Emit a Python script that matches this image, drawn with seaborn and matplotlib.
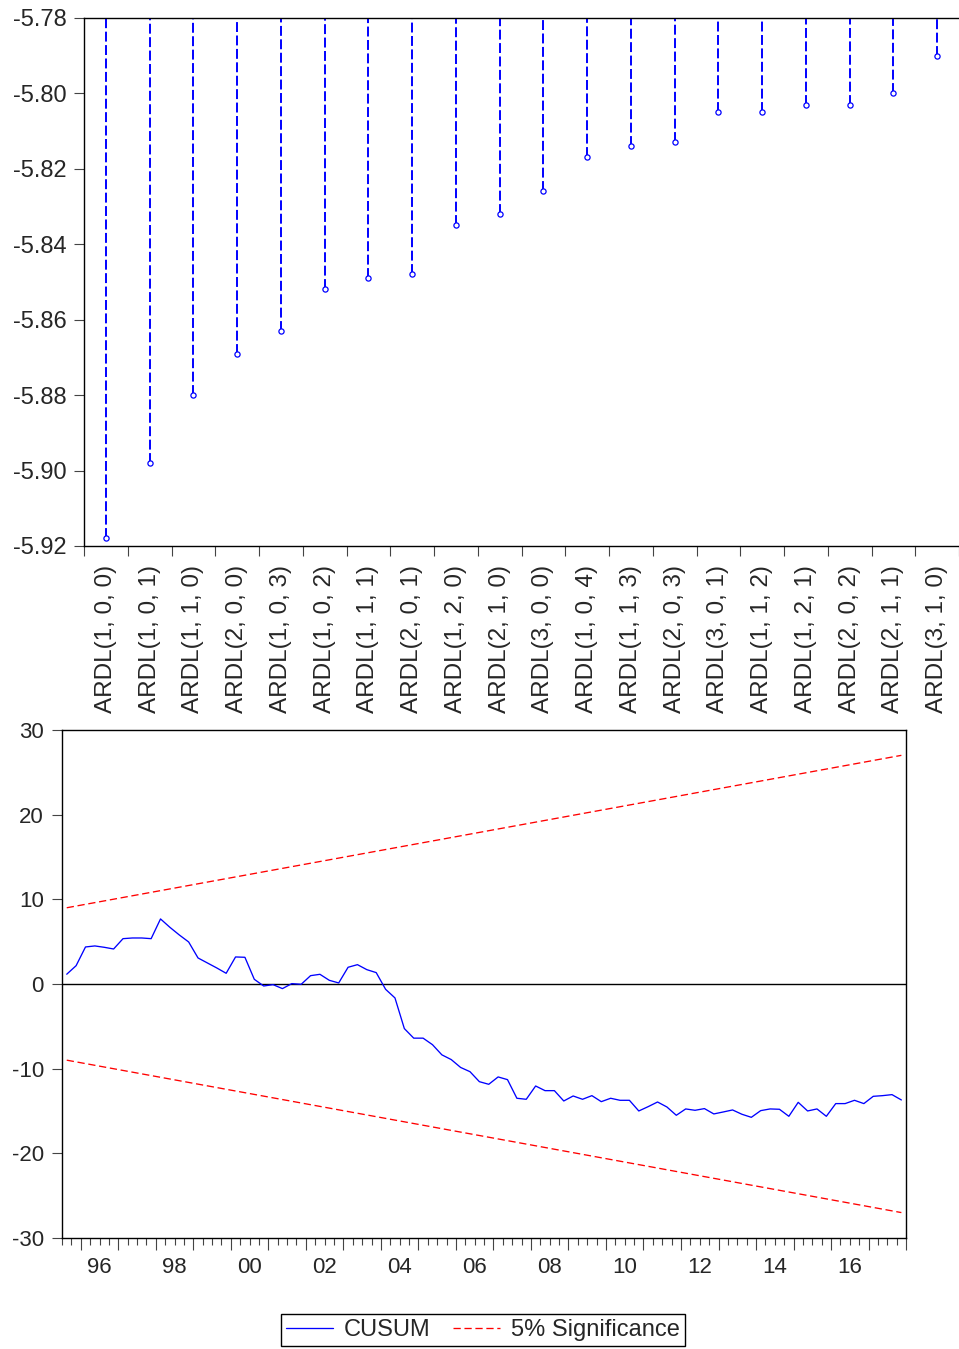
import numpy as np
import seaborn as sns
import matplotlib.pyplot as plt

# Top panel: Akaike criterion of the 20 best ARDL models
models = ["ARDL(1, 0, 0)", "ARDL(1, 0, 1)", "ARDL(1, 1, 0)", "ARDL(2, 0, 0)",
          "ARDL(1, 0, 3)", "ARDL(1, 0, 2)", "ARDL(1, 1, 1)", "ARDL(2, 0, 1)",
          "ARDL(1, 2, 0)", "ARDL(2, 1, 0)", "ARDL(3, 0, 0)", "ARDL(1, 0, 4)",
          "ARDL(1, 1, 3)", "ARDL(2, 0, 3)", "ARDL(3, 0, 1)", "ARDL(1, 1, 2)",
          "ARDL(1, 2, 1)", "ARDL(2, 0, 2)", "ARDL(2, 1, 1)", "ARDL(3, 1, 0)"]
aic = [-5.918, -5.898, -5.880, -5.869, -5.863, -5.852, -5.849, -5.848,
       -5.835, -5.832, -5.826, -5.817, -5.814, -5.813, -5.805, -5.805,
       -5.803, -5.803, -5.800, -5.790]
aic_ticks = [-5.92, -5.90, -5.88, -5.86, -5.84, -5.82, -5.80, -5.78]

# Bottom panel: CUSUM, quarterly 1995Q3 - 2017Q4
first_year, first_q = 1995, 3
cusum = [1.15, 2.16, 4.37, 4.49, 4.33, 4.13, 5.35, 5.43, 5.43, 5.35,
         7.68, 6.69, 5.79, 4.96, 3.07, 2.48, 1.89, 1.26, 3.19, 3.15,
         0.55, -0.24, -0.08, -0.55, 0.04, -0.04, 0.98, 1.14, 0.43, 0.12,
         1.97, 2.28, 1.69, 1.34, -0.63, -1.65, -5.27, -6.40, -6.40, -7.17,
         -8.37, -8.93, -9.86, -10.36, -11.54, -11.85, -10.98, -11.30, -13.50, -13.62,
         -12.05, -12.60, -12.60, -13.82, -13.23, -13.62, -13.19, -13.90, -13.50, -13.74,
         -13.74, -15.00, -14.49, -13.94, -14.53, -15.51, -14.76, -14.92, -14.72, -15.35,
         -15.12, -14.88, -15.39, -15.75, -14.96, -14.76, -14.80, -15.63, -13.98, -15.00,
         -14.76, -15.63, -14.13, -14.13, -13.74, -14.13, -13.27, -13.19, -13.07, -13.70]
upper_bound = [9.0, 27.0]    # first and last quarter
lower_bound = [-9.0, -27.0]
cusum_ticks = [-30, -20, -10, 0, 10, 20, 30]
year_labels = ["96", "98", "00", "02", "04", "06", "08", "10", "12", "14", "16"]
label_years = [1996, 1998, 2000, 2002, 2004, 2006, 2008, 2010, 2012, 2014, 2016]

sns.set_style("ticks")
plt.rcParams['font.family'] = ['Liberation Sans', 'DejaVu Sans']
plt.rcParams['axes.unicode_minus'] = False

fig = plt.figure(figsize=(9.59, 13.49), dpi=100)

# ---------------- top panel ----------------
ax1 = fig.add_axes([0.0876, 0.5953, 0.9124, 0.3914])
pos = np.arange(len(models))
ax1.vlines(pos, aic, aic_ticks[-1], colors='#0000FF', linewidth=1.4,
           linestyles=[(0, (5.1, 1.8))])
sns.scatterplot(x=pos, y=aic, ax=ax1, marker='o', s=14, facecolor='white',
                edgecolor='#0000FF', linewidth=0.9, zorder=3, legend=False)
ax1.set_xlim(-0.5, len(models) - 0.5)
ax1.set_ylim(aic_ticks[0], aic_ticks[-1])
ax1.set_yticks(aic_ticks)
ax1.set_yticklabels([f"{v:.2f}" for v in aic_ticks], fontsize=17)
ax1.set_xticks(np.arange(-0.5, len(models), 1.0))
ax1.set_xticklabels([])
ax1.set_xticks(pos, minor=True)
ax1.set_xticklabels(models, minor=True, rotation=90, fontsize=17.5)
ax1.tick_params(axis='x', which='major', length=7.2, width=0.8, direction='out', color='#444444')
ax1.tick_params(axis='x', which='minor', length=0, pad=13.5)
ax1.tick_params(axis='y', length=7.2, width=0.8, pad=5, direction='out', color='#444444')
ax1.spines['right'].set_visible(False)
for s in ['left', 'top', 'bottom']:
    ax1.spines[s].set_color('black')
    ax1.spines[s].set_linewidth(1.0)

# ---------------- bottom panel ----------------
ax2 = fig.add_axes([0.0647, 0.0823, 0.8801, 0.3766])
quarters = np.arange(len(cusum))
xq = first_year + (first_q - 1) / 4 + quarters / 4 + 0.125
x_ends = [xq[0], xq[-1]]

sns.lineplot(x=xq, y=cusum, ax=ax2, color='#0000FF', linewidth=0.95, label='CUSUM')
sns.lineplot(x=x_ends, y=upper_bound, ax=ax2, color='#FF0000', linewidth=0.95,
             linestyle=(0, (5.5, 2.8)), label='5% Significance')
sns.lineplot(x=x_ends, y=lower_bound, ax=ax2, color='#FF0000', linewidth=0.95,
             linestyle=(0, (5.5, 2.8)))
ax2.axhline(0, color='black', linewidth=1.0, zorder=1)

handles, labels = ax2.get_legend_handles_labels()
ax2.legend_.remove()

x0 = first_year + (first_q - 1) / 4
x1 = x0 + len(cusum) / 4
ax2.set_xlim(x0, x1)
ax2.set_ylim(cusum_ticks[0], cusum_ticks[-1])
ax2.set_yticks(cusum_ticks)
ax2.set_yticklabels([str(v) for v in cusum_ticks], fontsize=16)
ax2.set_xticks(np.arange(np.ceil(x0), x1 + 0.01, 1.0))
ax2.set_xticklabels([])
ax2.set_xticks(np.arange(x0, x1 + 0.01, 0.25), minor=True)
ax2.tick_params(axis='x', which='major', length=8.6, width=0.8, direction='out', color='#444444')
ax2.tick_params(axis='x', which='minor', length=5, width=0.8, direction='out', color='#444444')
ax2.tick_params(axis='y', length=7.2, width=0.8, pad=5.8, direction='out', color='#444444')
for s in ax2.spines.values():
    s.set_color('black')
    s.set_linewidth(1.0)

secax = ax2.secondary_xaxis('bottom')
secax.set_xticks([y + 0.5 for y in label_years])
secax.set_xticklabels(year_labels, fontsize=16)
secax.tick_params(length=0, pad=13.5)
secax.spines['bottom'].set_visible(False)

fig.legend(handles, labels, loc='center', bbox_to_anchor=(0.5037, 0.0141), ncol=2,
           frameon=True, fancybox=False, edgecolor='black', framealpha=1,
           fontsize=17, handlelength=2.0, handletextpad=0.45, columnspacing=0.95,
           borderpad=0.22, borderaxespad=0)

fig.savefig("out.png", dpi=100)
